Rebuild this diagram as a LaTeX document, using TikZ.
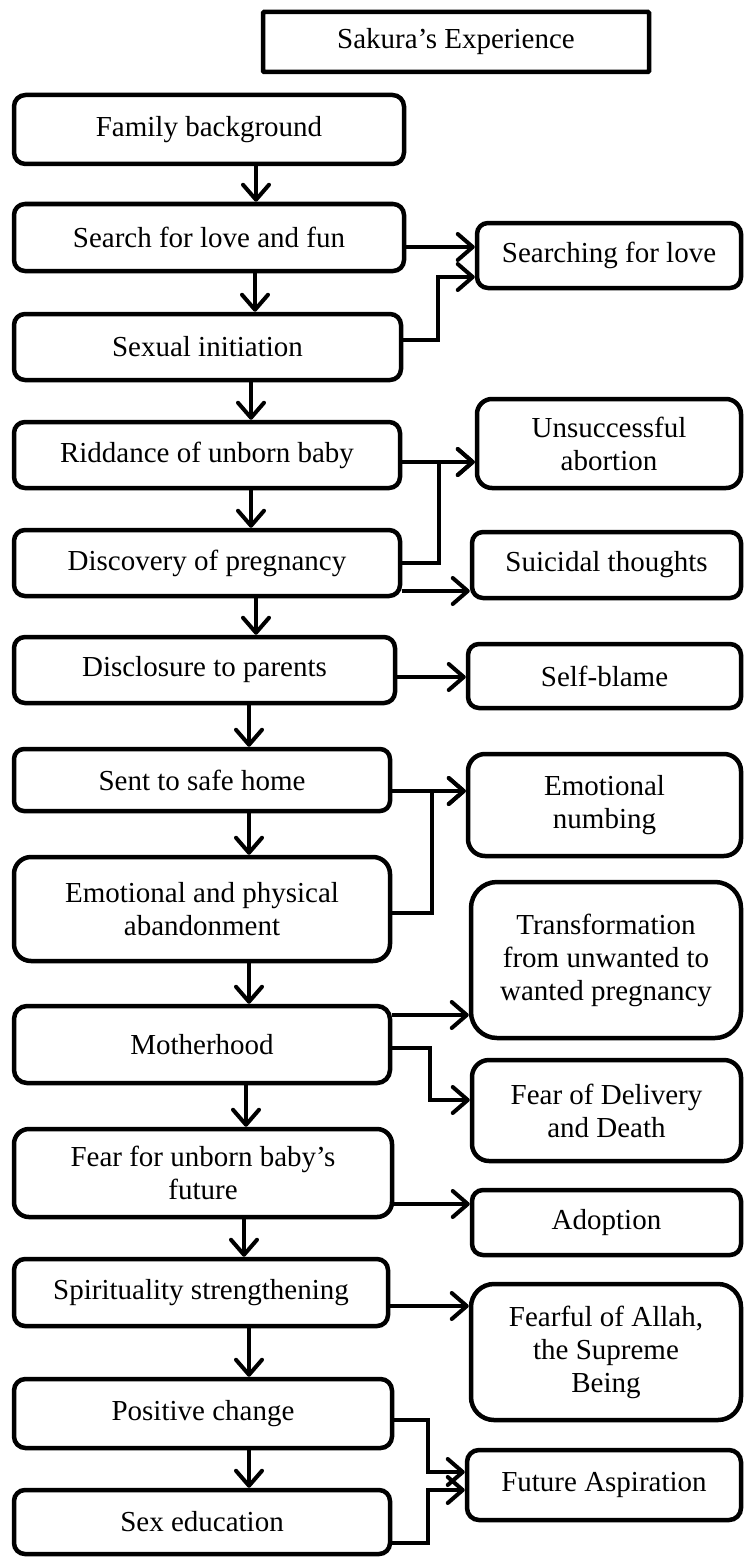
\documentclass[tikz,border=0pt]{standalone}
\usepackage{fontspec}
\setmainfont{Liberation Serif}
\usetikzlibrary{arrows.meta}
\begin{document}
\begin{tikzpicture}[x=1pt,y=-1pt,
  every node/.style={font=\fontsize{29}{33}\selectfont},
  box/.style n args={3}{draw, line width=4.5pt, align=center, inner sep=0pt,
    minimum width=#1, minimum height=#2, rounded corners=#3},
  arr/.style={line width=4pt, -{Straight Barb[length=15pt,width=26pt,round]}}]
\useasboundingbox (0,0) rectangle (744,1557);

% title
\node[box={386pt}{60pt}{1pt}] (title) at (456,42) {Sakura’s Experience};

% main sequence (left column)
\node[box={390pt}{69pt}{11.5pt}] (fb)     at (209,129.5)  {Family background};
\node[box={390pt}{67pt}{11pt}]   (search) at (209,237.5)  {Search for love and fun};
\node[box={387pt}{66pt}{11pt}]   (sexual) at (207.5,347)  {Sexual initiation};
\node[box={386pt}{66pt}{11pt}]   (ridd)   at (207,455)    {Riddance of unborn baby};
\node[box={386pt}{66pt}{11pt}]   (disc)   at (207,563)    {Discovery of pregnancy};
\node[box={381pt}{66pt}{11pt}]   (discl)  at (204.5,670)  {Disclosure to parents};
\node[box={376pt}{62pt}{10pt}]   (sent)   at (202,780)    {Sent to safe home};
\node[box={376pt}{104pt}{17pt}]  (emo)    at (202,909)    {Emotional and physical\\abandonment};
\node[box={376pt}{77pt}{13pt}]   (moth)   at (202,1044.5) {Motherhood};
\node[box={378pt}{88pt}{15pt}]   (ffu)    at (203,1173)   {Fear for unborn baby’s\\future};
\node[box={374pt}{67pt}{11pt}]   (spir)   at (201,1292.5) {Spirituality strengthening};
\node[box={378pt}{69pt}{11.5pt}] (pc)     at (203,1413.5) {Positive change};
\node[box={376pt}{64pt}{11pt}]   (sexed)  at (202,1522)   {Sex education};

% outcomes (right column)
\node[box={264pt}{65pt}{11pt}]   (searching) at (609,255.5)  {Searching for love};
\node[box={264pt}{89pt}{15pt}]   (unsucc)    at (609,443.5)  {Unsuccessful\\abortion};
\node[box={269pt}{66pt}{11pt}]   (suic)      at (606.5,565)  {Suicidal thoughts};
\node[box={273pt}{64pt}{11pt}]   (selfb)     at (604.5,676)  {Self-blame};
\node[box={273pt}{102pt}{17pt}]  (enumb)     at (604.5,805)  {Emotional\\numbing};
\node[box={270pt}{156pt}{26pt}]  (transf)    at (606,960)    {Transformation\\from unwanted to\\wanted pregnancy};
\node[box={269pt}{101pt}{17pt}]  (fod)       at (606.5,1110.5) {Fear of Delivery\\and Death};
\node[box={269pt}{65pt}{11pt}]   (adopt)     at (606.5,1222.5) {Adoption};
\node[box={270pt}{136pt}{23pt}]  (fearful)   at (606,1352)   {Fearful of Allah,\\the Supreme\\Being};
\node[box={274pt}{70pt}{12pt}]   (fasp)      at (604,1485)   {Future Aspiration};

% downward flow
\draw[arr] ([xshift=47pt]fb.south)     -- ([xshift=47pt]fb.south |- search.north);
\draw[arr] ([xshift=46pt]search.south) -- ([xshift=46pt]search.south |- sexual.north);
\draw[arr] ([xshift=43.5pt]sexual.south) -- ([xshift=43.5pt]sexual.south |- ridd.north);
\draw[arr] ([xshift=44pt]ridd.south)   -- ([xshift=44pt]ridd.south |- disc.north);
\draw[arr] ([xshift=49pt]disc.south)   -- ([xshift=49pt]disc.south |- discl.north);
\draw[arr] ([xshift=44.5pt]discl.south) -- ([xshift=44.5pt]discl.south |- sent.north);
\draw[arr] ([xshift=47pt]sent.south)   -- ([xshift=47pt]sent.south |- emo.north);
\draw[arr] ([xshift=47pt]emo.south)    -- ([xshift=47pt]emo.south |- moth.north);
\draw[arr] ([xshift=44pt]moth.south)   -- ([xshift=44pt]moth.south |- ffu.north);
\draw[arr] ([xshift=41pt]ffu.south)    -- ([xshift=41pt]ffu.south |- spir.north);
\draw[arr] ([xshift=48pt]spir.south)   -- ([xshift=48pt]spir.south |- pc.north);
\draw[arr] ([xshift=46pt]pc.south)     -- ([xshift=46pt]pc.south |- sexed.north);

% links to outcomes
\draw[arr] ([yshift=-9.5pt]search.east) -- ([yshift=-9.5pt]search.east -| searching.west);
\draw[arr] ([yshift=7pt]sexual.east) -- ++(35pt,0) |- ([yshift=-21.5pt]searching.west);
\draw[arr] ([yshift=-7pt]ridd.east) -- ([yshift=-7pt]ridd.east -| unsucc.west);
\draw[arr] (disc.east) -- ++(37pt,0) |- ([yshift=-7pt]ridd.east -| unsucc.west);
\draw[arr] ([yshift=-28pt]disc.east) -- ([yshift=-28pt]disc.east -| suic.west);
\draw[arr] ([yshift=-7pt]discl.east) -- ([yshift=-7pt]discl.east -| selfb.west);
\draw[arr] ([yshift=-11pt]sent.east) -- ([yshift=-11pt]sent.east -| enumb.west);
\draw[arr] ([yshift=-4pt]emo.east) -- ++(40pt,0) |- ([yshift=-11pt]sent.east -| enumb.west);
\draw[arr] ([yshift=29.5pt]moth.east) -- ([yshift=29.5pt]moth.east -| transf.west);
\draw[arr] ([yshift=-3.5pt]moth.east) -- ++(38pt,0) |- ([yshift=10.5pt]fod.west);
\draw[arr] ([yshift=-31pt]ffu.east) -- ([yshift=-31pt]ffu.east -| adopt.west);
\draw[arr] ([yshift=-13.5pt]spir.east) -- ([yshift=-13.5pt]spir.east -| fearful.west);
\draw[arr] ([yshift=-6.5pt]pc.east) -- ++(34pt,0) |- ([yshift=13pt]fasp.west);
\draw[arr] ([yshift=-21pt]sexed.east) -- ++(36pt,0) |- ([yshift=-5pt]fasp.west);
\end{tikzpicture}
\end{document}
